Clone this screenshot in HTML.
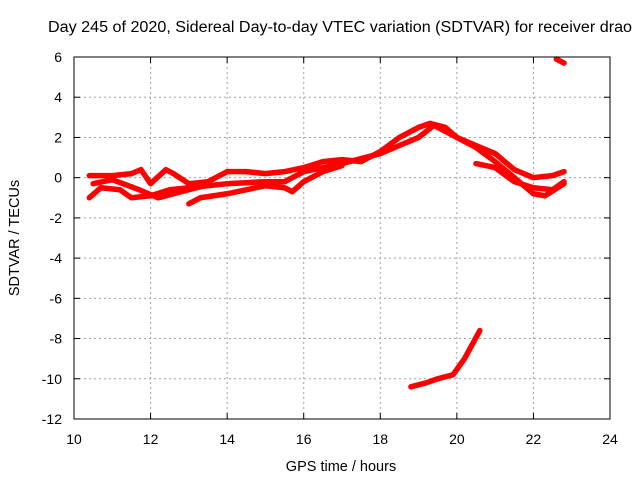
<!DOCTYPE html>
<html><head><meta charset="utf-8"><style>
body{margin:0;background:#fff}
svg{display:block;font-family:"Liberation Sans",sans-serif}
</style></head><body>
<svg id="chart" width="640" height="480">
<text x="340" y="32" text-anchor="middle" font-size="15.5" textLength="584" lengthAdjust="spacingAndGlyphs">Day 245 of 2020, Sidereal Day-to-day VTEC variation (SDTVAR) for receiver drao</text>
<text x="341" y="471" text-anchor="middle" font-size="14.5">GPS time / hours</text>
<text transform="translate(19,238) rotate(-90)" text-anchor="middle" font-size="14.5">SDTVAR / TECUs</text>
<g id="grid"></g><g id="ticks"></g><g id="series"></g>
<rect x="74" y="57" width="536" height="362" fill="none" stroke="#000" stroke-width="1"/>
</svg>
<script>
const xTicks=[10,12,14,16,18,20,22,24];
const yTicks=[6,4,2,0,-2,-4,-6,-8,-10,-12];
const seriesA=[[10.4,0.1],[11,0.1],[11.5,0.2],[11.75,0.4],[12,-0.3],[12.4,0.4],[12.6,0.2],[13,-0.3],[13.5,-0.2],[14,0.3],[14.5,0.3],[15,0.2],[15.5,0.3],[16,0.5],[16.5,0.8],[17,0.9],[17.5,0.8],[18,1.3],[18.5,2.0],[19,2.5],[19.3,2.7],[19.7,2.5],[20,2.0],[20.5,1.6],[21,1.2],[21.5,0.4],[22,0.0],[22.5,0.1],[22.8,0.3]];
const seriesB=[[10.4,-1.0],[10.7,-0.5],[11.2,-0.6],[11.5,-1.0],[12,-0.9],[12.5,-0.6],[13,-0.5],[14,-0.3],[15,-0.2],[15.5,-0.2],[16,0.3],[17,0.7],[18,1.2],[18.5,1.6],[19,2.0],[19.4,2.6],[20,2.0],[20.5,1.5],[21,0.8],[21.5,0.0],[22,-0.8],[22.3,-0.9],[22.8,-0.3]];
const seriesC=[[10.5,-0.3],[11,-0.1],[11.7,-0.6],[12.2,-1.0],[12.8,-0.7],[13.4,-0.4]];
const seriesD=[[13,-1.3],[13.3,-1.0],[14,-0.8],[15,-0.4],[15.5,-0.5],[15.7,-0.7],[16,-0.2],[16.5,0.3],[17,0.6]];
const seriesE=[[20.5,0.7],[21,0.5],[21.5,-0.2],[22,-0.5],[22.5,-0.6],[22.8,-0.2]];
const seriesF=[[18.8,-10.4],[19.2,-10.2],[19.5,-10.0],[19.9,-9.8],[20.2,-9.0],[20.6,-7.6]];
const seriesG=[[22.6,5.9],[22.8,5.7]];
const allSeries=[seriesA,seriesB,seriesC,seriesD,seriesE,seriesF,seriesG];
const X0=74,X1=610,Y0=57,Y1=419;
const xs=h=>X0+(h-10)/14*(X1-X0);
const ys=v=>Y0+(6-v)/18*(Y1-Y0);
const NS="http://www.w3.org/2000/svg";
function mk(tag,attrs,parent){const e=document.createElementNS(NS,tag);for(const k in attrs)e.setAttribute(k,attrs[k]);parent.appendChild(e);return e;}
const grid=document.getElementById('grid'),ticks=document.getElementById('ticks'),ser=document.getElementById('series');
xTicks.forEach(t=>{const x=xs(t);
 if(t>10&&t<24){const g=mk('line',{x1:x,x2:x,y1:Y0,y2:Y1,stroke:'#a0a0a0','stroke-dasharray':'2,3'},grid);
 
 }
 mk('line',{x1:x,x2:x,y1:Y1,y2:Y1-6,stroke:'#000'},ticks);
 mk('line',{x1:x,x2:x,y1:Y0,y2:Y0+6,stroke:'#000'},ticks);
 const l=mk('text',{x:x,y:Y1+25,'text-anchor':'middle','font-size':'14'},ticks);l.textContent=t;
 
 });
yTicks.forEach(t=>{const y=ys(t);
 if(t<6&&t>-12){const g=mk('line',{x1:X0,x2:X1,y1:y,y2:y,stroke:'#a0a0a0','stroke-dasharray':'2,3'},grid);
 
 }
 mk('line',{x1:X0,x2:X0+6,y1:y,y2:y,stroke:'#000'},ticks);
 mk('line',{x1:X1,x2:X1-6,y1:y,y2:y,stroke:'#000'},ticks);
 const l=mk('text',{x:X0-12,y:y+5,'text-anchor':'end','font-size':'14'},ticks);l.textContent=t;
 
 });
allSeries.forEach((s,i)=>{const p=mk('polyline',{points:s.map(d=>xs(d[0])+','+ys(d[1])).join(' '),fill:'none',stroke:'#ff0000','stroke-width':'5.5','stroke-linejoin':'round','stroke-linecap':'round'},ser);
 
 });
</script>
</body></html>
